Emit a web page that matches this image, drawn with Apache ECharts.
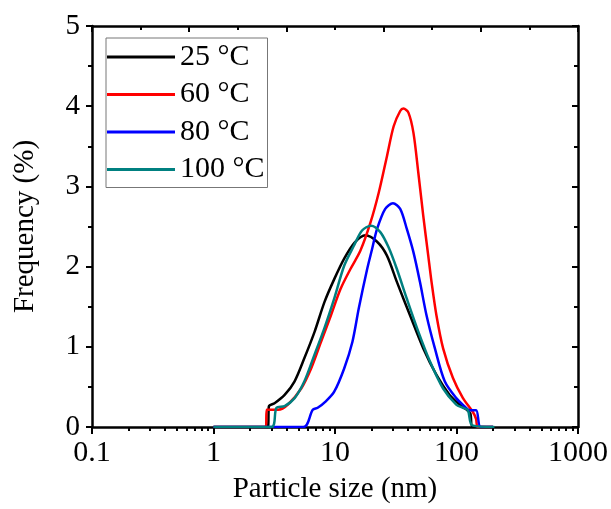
<!DOCTYPE html>
<html>
<head>
<meta charset="utf-8">
<script src="https://cdn.jsdelivr.net/npm/echarts@6/dist/echarts.min.js"></script>
<style>
  html, body { margin: 0; padding: 0; background: #fff; }
  #chart { width: 611px; height: 509px; }
</style>
</head>
<body>
<div id="chart"></div>
<script>
// values: [particle size (nm), frequency (%)]
var seriesNames = ['25 °C', '60 °C', '80 °C', '100 °C'];
var seriesColors = ['#000000', '#ff0000', '#0000ff', '#008080'];

var data25 = [[1, 0], [2.8, 0], [2.85, 0.25], [2.9, 0.27], [3.2, 0.30], [3.85, 0.40], [4.65, 0.57],
  [5.6, 0.86], [6.8, 1.19], [8.2, 1.56], [9.9, 1.85], [11.9, 2.1], [14.5, 2.3], [17.8, 2.39],
  [22.2, 2.31], [26.7, 2.14], [32.3, 1.81], [41.5, 1.39], [53.3, 0.98], [68.4, 0.65],
  [87.8, 0.40], [106, 0.28], [120, 0.22], [130, 0.17], [136, 0], [200, 0]];
var data60 = [[1, 0], [2.7, 0], [2.74, 0.215], [3.4, 0.215], [4.1, 0.28], [5.27, 0.48], [6.36, 0.73],
  [7.66, 1.06], [9.25, 1.39], [11.1, 1.72], [13.4, 1.97], [16.2, 2.2], [19.6, 2.55], [22.9, 2.92],
  [26.8, 3.38], [30.4, 3.75], [34.4, 3.94], [36.6, 3.97], [40.2, 3.92], [44.2, 3.67], [48.5, 3.17],
  [53.3, 2.63], [58.5, 2.14], [62.3, 1.81], [68.4, 1.39], [77.6, 0.98], [93.5, 0.61], [113, 0.36],
  [136, 0.19], [145, 0.1], [150, 0], [200, 0]];
var data80 = [[1, 0], [5.5, 0], [6.56, 0.215], [7.2, 0.24], [8.4, 0.32], [9.85, 0.44], [11.9, 0.73],
  [13.9, 1.06], [15.7, 1.48], [18.4, 1.97], [20.2, 2.22], [22.2, 2.47], [25.9, 2.72], [30, 2.79],
  [34.4, 2.72], [39, 2.47], [44.2, 2.18], [50, 1.81], [56.7, 1.39], [66.4, 0.98], [80, 0.57],
  [99.5, 0.36], [116, 0.26], [128, 0.21], [145, 0.21], [158, 0], [200, 0]];
var data100 = [[1, 0], [3.0, 0], [3.3, 0.24], [3.85, 0.26], [4.65, 0.36], [5.6, 0.57], [6.77, 0.9],
  [8.17, 1.23], [9.85, 1.6], [11.9, 2.01], [14.3, 2.26], [16.7, 2.45], [19.8, 2.51], [23.6, 2.43],
  [27.6, 2.24], [32.3, 1.97], [39, 1.6], [48.5, 1.19], [60.4, 0.82], [77.6, 0.48], [99.5, 0.28],
  [113, 0.24], [124, 0.21], [135, 0.02], [205, 0]];
var seriesData = [data25, data60, data80, data100];

var xMinorTicks = [0.2, 0.3, 0.4, 0.5, 0.6, 0.7, 0.8, 0.9, 2, 3, 4, 5, 6, 7, 8, 9,
  20, 30, 40, 50, 60, 70, 80, 90, 200, 300, 400, 500, 600, 700, 800, 900];

var fontFamily = '"Liberation Serif", "Times New Roman", serif';
var axisLineStyle = { color: '#000', width: 2.5 };

var chart = echarts.init(document.getElementById('chart'), null, { renderer: 'canvas' });

var series = [];
for (var i = 0; i < seriesData.length; i++) {
  series.push({
    name: seriesNames[i],
    type: 'line',
    data: seriesData[i],
    showSymbol: false,
    smooth: 0.3,
    lineStyle: { color: seriesColors[i], width: 2.5 },
    itemStyle: { color: seriesColors[i] }
  });
}

var option = {
  backgroundColor: '#ffffff',
  animation: false,
  grid: { left: 92, right: 28, top: 26, bottom: 80, containLabel: false },
  legend: {
    orient: 'vertical',
    left: 106,
    top: 38,
    icon: 'rect',
    itemWidth: 68,
    itemHeight: 3,
    itemGap: 7.5,
    padding: [4, 3, 3, 1],
    borderColor: '#777777',
    borderWidth: 1,
    textStyle: { fontFamily: fontFamily, fontSize: 30, color: '#000', lineHeight: 30 },
    data: seriesNames
  },
  xAxis: [
    {
      type: 'log',
      logBase: 10,
      min: 0.1,
      max: 1000,
      position: 'bottom',
      name: 'Particle size (nm)',
      nameLocation: 'middle',
      nameGap: 48,
      nameTextStyle: { fontFamily: fontFamily, fontSize: 29, color: '#000' },
      axisLine: { show: true, lineStyle: axisLineStyle },
      axisTick: { show: true, inside: false, length: 7, lineStyle: { color: '#000', width: 2 } },
      axisLabel: {
        fontFamily: fontFamily, fontSize: 30, color: '#000', margin: 11,
        formatter: function (v) { return String(v); }
      },
      splitLine: { show: false }
    },
    {
      type: 'log',
      logBase: 10,
      min: 0.1,
      max: 1000,
      position: 'bottom',
      axisLine: { show: false },
      axisTick: { show: true, inside: false, length: 4, customValues: xMinorTicks,
        lineStyle: { color: '#000', width: 2 } },
      axisLabel: { show: false },
      splitLine: { show: false }
    },
    {
      type: 'value',
      min: 0,
      max: 10,
      interval: 2,
      position: 'top',
      axisLine: { show: true, lineStyle: axisLineStyle },
      axisTick: { show: true, inside: true, length: 6, lineStyle: { color: '#000', width: 2 } },
      minorTick: { show: true, splitNumber: 2, length: 4, lineStyle: { color: '#000', width: 2 } },
      axisLabel: { show: false },
      splitLine: { show: false }
    }
  ],
  yAxis: [
    {
      type: 'value',
      min: 0,
      max: 5,
      interval: 1,
      position: 'left',
      name: 'Frequency (%)',
      nameLocation: 'middle',
      nameGap: 52,
      nameTextStyle: { fontFamily: fontFamily, fontSize: 29, color: '#000' },
      axisLine: { show: true, lineStyle: axisLineStyle },
      axisTick: { show: true, inside: false, length: 6, lineStyle: { color: '#000', width: 2 } },
      minorTick: { show: true, splitNumber: 2, length: 4, lineStyle: { color: '#000', width: 2 } },
      axisLabel: { fontFamily: fontFamily, fontSize: 29, color: '#000', margin: 12 },
      splitLine: { show: false }
    },
    {
      type: 'value',
      min: 0,
      max: 5,
      interval: 1,
      position: 'right',
      axisLine: { show: true, lineStyle: axisLineStyle },
      axisTick: { show: true, inside: true, length: 6, lineStyle: { color: '#000', width: 2 } },
      minorTick: { show: true, splitNumber: 2, length: 4, lineStyle: { color: '#000', width: 2 } },
      axisLabel: { show: false },
      splitLine: { show: false }
    }
  ],
  series: series
};

chart.setOption(option);
</script>
</body>
</html>
